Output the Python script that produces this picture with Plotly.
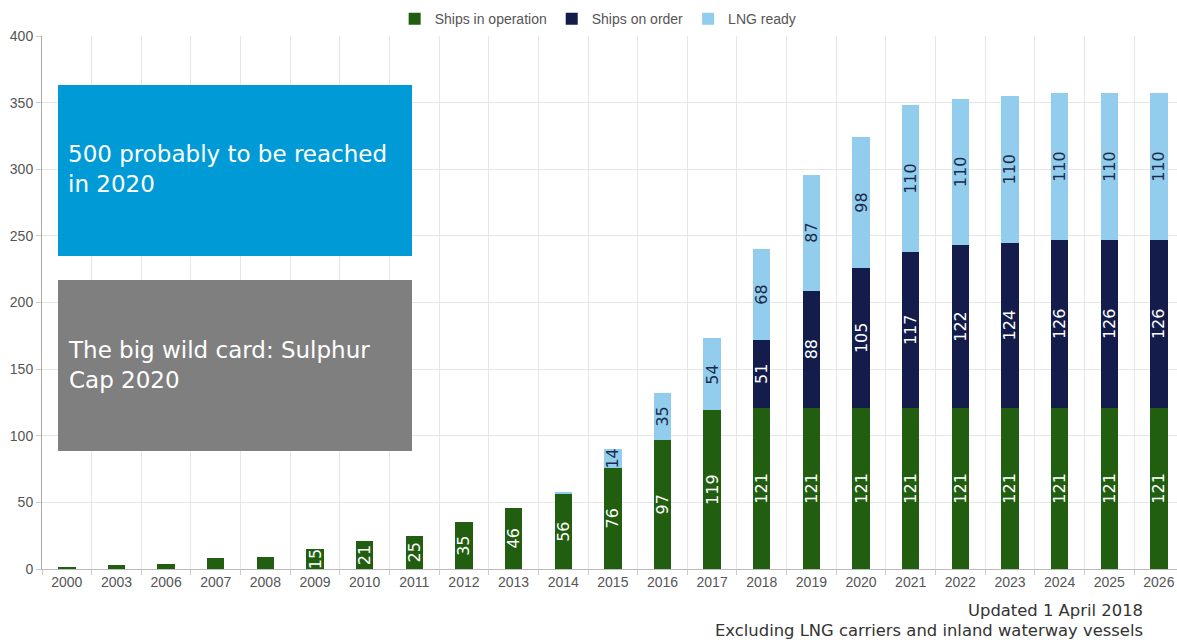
import plotly.graph_objects as go

years = ["2000", "2003", "2006", "2007", "2008", "2009", "2010", "2011", "2012",
         "2013", "2014", "2015", "2016", "2017", "2018", "2019", "2020", "2021",
         "2022", "2023", "2024", "2025", "2026"]
in_operation = [1, 3, 4, 8, 9, 15, 21, 25, 35, 46, 56, 76, 97, 119, 121, 121, 121,
                121, 121, 121, 121, 121, 121]
on_order = [0, 0, 0, 0, 0, 0, 0, 0, 0, 0, 0, 0, 0, 0, 51, 88, 105, 117, 122, 124,
            126, 126, 126]
lng_ready = [0, 0, 0, 0, 0, 0, 0, 0, 0, 0, 2, 14, 35, 54, 68, 87, 98, 110, 110, 110,
             110, 110, 110]

series = [
    ("Ships in operation", in_operation, "#215E10", "white"),
    ("Ships on order", on_order, "#141C4B", "white"),
    ("LNG ready", lng_ready, "#93CDEE", "#1B2A48"),
]

fig = go.Figure()
for name, vals, color, tcolor in series:
    labels = [str(v) if v >= 10 else "" for v in vals]
    fig.add_trace(go.Bar(
        name=name, x=years, y=vals, marker_color=color, marker_line_width=0,
        text=labels, textposition="inside", textangle=-90,
        insidetextanchor="middle", constraintext="none",
        textfont=dict(family="DejaVu Sans", size=16, color=tcolor),
    ))

fig.update_layout(
    width=1177, height=643,
    barmode="stack", bargap=0.65,
    plot_bgcolor="white", paper_bgcolor="white",
    margin=dict(l=42, r=0, t=36, b=74, autoexpand=False),
    showlegend=True,
    legend=dict(orientation="h", x=0.49, xanchor="center", yref="container",
                y=0.995, yanchor="top", traceorder="normal",
                font=dict(family="Liberation Sans", size=14, color="#555555")),
    xaxis=dict(type="category", range=[-0.5, 22.365], tickson="boundaries",
               showgrid=True, gridcolor="#E6E6E6", showline=True, linecolor="#BBBBBB",
               ticks="outside", ticklen=5, tickcolor="#CCCCCC", automargin=False,
               tickfont=dict(family="Liberation Sans", size=14, color="#555555")),
    yaxis=dict(range=[0, 400], dtick=50, showgrid=True, gridcolor="#E6E6E6",
               showline=True, linecolor="#AAAAAA", ticks="outside", ticklen=5,
               tickcolor="#CCCCCC", zeroline=False, automargin=False,
               tickfont=dict(family="Liberation Sans", size=14, color="#555555")),
    shapes=[
        dict(type="rect", xref="paper", yref="y", x0=0.0141, x1=0.326, y0=234.9, y1=363.2,
             fillcolor="#009BD7", line_width=0, layer="above"),
        dict(type="rect", xref="paper", yref="y", x0=0.0141, x1=0.326, y0=88.6, y1=216.9,
             fillcolor="#7F7F7F", line_width=0, layer="above"),
    ],
    annotations=[
        dict(xref="paper", yref="y", x=0.0211, y=300, xanchor="left", yanchor="middle",
             align="left", showarrow=False,
             text="500 probably to be reached<br>in 2020",
             font=dict(family="DejaVu Sans", size=23, color="white")),
        dict(xref="paper", yref="y", x=0.0211, y=153, xanchor="left", yanchor="middle",
             align="left", showarrow=False,
             text="The big wild card: Sulphur<br>Cap 2020",
             font=dict(family="DejaVu Sans", size=23, color="white")),
        dict(xref="paper", yref="paper", x=0.972, y=-0.077, xanchor="right",
             yanchor="middle", align="right", showarrow=False,
             text="Updated 1 April 2018",
             font=dict(family="DejaVu Sans", size=16.4, color="#333333")),
        dict(xref="paper", yref="paper", x=0.972, y=-0.116, xanchor="right",
             yanchor="middle", align="right", showarrow=False,
             text="Excluding LNG carriers and inland waterway vessels",
             font=dict(family="DejaVu Sans", size=16.4, color="#333333")),
    ],
)

fig.write_html("out.html")
